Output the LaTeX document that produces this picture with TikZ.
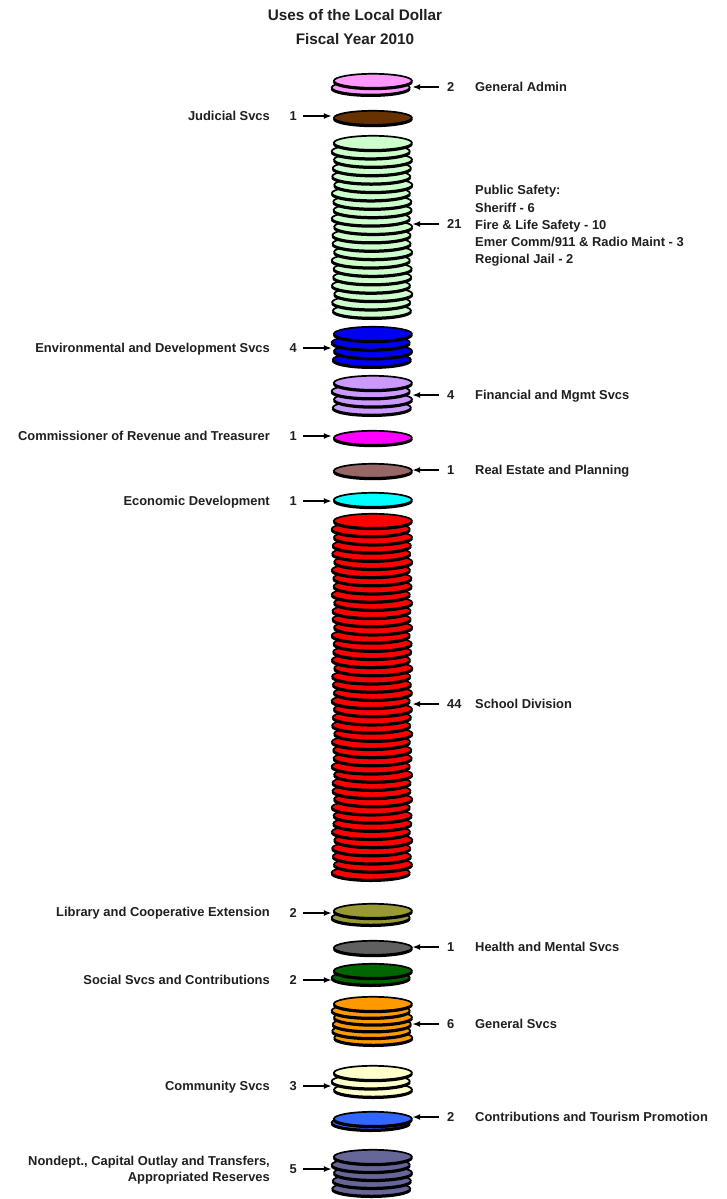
\documentclass[tikz,border=0pt]{standalone}
\usepackage{fontspec}
\setmainfont{Liberation Sans}
\usetikzlibrary{arrows.meta}
\definecolor{cPink}{RGB}{255,153,255}
\definecolor{cBrown}{RGB}{102,51,0}
\definecolor{cMint}{RGB}{204,255,204}
\definecolor{cBlue}{RGB}{0,0,240}
\definecolor{cLav}{RGB}{204,153,255}
\definecolor{cMag}{RGB}{255,0,255}
\definecolor{cRosy}{RGB}{153,102,102}
\definecolor{cCyan}{RGB}{0,255,255}
\definecolor{cRed}{RGB}{255,0,0}
\definecolor{cOlive}{RGB}{153,153,51}
\definecolor{cGray}{RGB}{96,96,96}
\definecolor{cDkGreen}{RGB}{0,102,0}
\definecolor{cOrange}{RGB}{255,153,0}
\definecolor{cCream}{RGB}{255,255,204}
\definecolor{cBlueB}{RGB}{51,102,255}
\definecolor{cSlate}{RGB}{102,102,153}
\newcommand\coinstack[5]{%
  \pgfmathsetmacro\cstep{(#5-#4-17.2)/max(#3-1,1)}%
  \foreach \k in {#3,...,1}{%
    \pgfmathsetmacro\cy{#4+7.8+(\k-1)*\cstep}%
    \pgfmathsetmacro\cx{372+1.3*sin(\k*137)}%
    \fill[black] (\cx,\cy+1.8) ellipse [x radius=39.8pt, y radius=7.6pt];
    \filldraw[coin, fill=#2] (\cx,\cy) ellipse [x radius=39pt, y radius=7pt];
  }%
  \node[stackbox, minimum height={(#5-#4)*1pt}] (#1) at (372,{(#4+#5)/2}) {};
}
\tikzset{
  coin/.style={draw=black, line width=1.7pt},
  stackbox/.style={rectangle, minimum width=80pt, inner sep=0pt, draw=none},
  lblfont/.style={font=\bfseries\fontsize{12.9}{17.25}\selectfont, text=black!88, inner sep=0pt},
  lbl/.style={lblfont, text height=9.2pt, text depth=0pt},
  lnum/.style={lbl, anchor=east, inner xsep=6pt},
  rnum/.style={lbl, anchor=west, inner xsep=8pt},
  llab/.style={lbl, anchor=east},
  rlab/.style={lbl, anchor=west},
  ttl/.style={font=\bfseries\fontsize{15.3}{18}\selectfont, text=black!88, inner sep=0pt, text height=11pt, text depth=0pt},
  ptr/.style={line width=1.9pt, -{Latex[length=8pt,width=6pt]}},
}
\begin{document}
\begin{tikzpicture}[x=1pt,y=-1pt]
\useasboundingbox[fill=white] (0,0) rectangle (727,1199);
\node[ttl] (t1) at (355,15) {Uses of the Local Dollar};
\node[ttl] (t2) at (355,39) {Fiscal Year 2010};
% stacks
\coinstack{s1}{cPink}{2}{73}{97}
\coinstack{s2}{cBrown}{1}{110}{126}
\coinstack{s3}{cMint}{21}{135}{320}
\coinstack{s4}{cBlue}{4}{326}{369}
\coinstack{s5}{cLav}{4}{375}{417}
\coinstack{s6}{cMag}{1}{430}{448}
\coinstack{s7}{cRosy}{1}{463}{480}
\coinstack{s8}{cCyan}{1}{492}{507}
\coinstack{s9}{cRed}{44}{513}{882}
\coinstack{s10}{cOlive}{2}{903}{927}
\coinstack{s11}{cGray}{1}{940}{955}
\coinstack{s12}{cDkGreen}{2}{963}{987}
\coinstack{s13}{cOrange}{6}{996}{1047}
\coinstack{s14}{cCream}{3}{1065}{1099}
\coinstack{s15}{cBlueB}{2}{1111}{1132}
\coinstack{s16}{cSlate}{5}{1149}{1198}
% right side
\node[rnum] (n1) at (439,87) {2};
\node[rlab] (l1) at (475,87) {General Admin};
\node[rnum] (n3) at (439,224) {21};
\node[lblfont, anchor=west, align=left] (l3) at (475,226) {Public Safety:\\Sheriff - 6\\Fire \& Life Safety - 10\\Emer Comm/911 \& Radio Maint - 3\\Regional Jail - 2};
\node[rnum] (n5) at (439,395) {4};
\node[rlab] (l5) at (475,395) {Financial and Mgmt Svcs};
\node[rnum] (n7) at (439,470) {1};
\node[rlab] (l7) at (475,470) {Real Estate and Planning};
\node[rnum] (n9) at (439,704) {44};
\node[rlab] (l9) at (475,704) {School Division};
\node[rnum] (n11) at (439,947) {1};
\node[rlab] (l11) at (475,947) {Health and Mental Svcs};
\node[rnum] (n13) at (439,1024) {6};
\node[rlab] (l13) at (475,1024) {General Svcs};
\node[rnum] (n15) at (439,1117) {2};
\node[rlab] (l15) at (475,1117) {Contributions and Tourism Promotion};
% left side
\node[lnum] (n2) at (303,116) {1};
\node[llab] (l2) at (270,116) {Judicial Svcs};
\node[lnum] (n4) at (303,348) {4};
\node[llab] (l4) at (270,348) {Environmental and Development Svcs};
\node[lnum] (n6) at (303,436) {1};
\node[llab] (l6) at (270,436) {Commissioner of Revenue and Treasurer};
\node[lnum] (n8) at (303,501) {1};
\node[llab] (l8) at (270,501) {Economic Development};
\node[lnum] (n10) at (303,913) {2};
\node[llab] (l10) at (270,912) {Library and Cooperative Extension};
\node[lnum] (n12) at (303,980) {2};
\node[llab] (l12) at (270,980) {Social Svcs and Contributions};
\node[lnum] (n14) at (303,1086) {3};
\node[llab] (l14) at (270,1086) {Community Svcs};
\node[lnum] (n16) at (303,1169) {5};
\node[lblfont, anchor=east, align=right, font=\bfseries\fontsize{12.9}{16.5}\selectfont] (l16) at (270,1170) {Nondept., Capital Outlay and Transfers,\\Appropriated Reserves};
% arrows
\foreach \n/\s in {n1/s1,n3/s3,n5/s5,n7/s7,n9/s9,n11/s11,n13/s13,n15/s15}
  \draw[ptr] (\n.west) -- (\n -| \s.east);
\foreach \n/\s in {n2/s2,n4/s4,n6/s6,n8/s8,n10/s10,n12/s12,n14/s14,n16/s16}
  \draw[ptr] (\n.east) -- (\n -| \s.west);
\end{tikzpicture}
\end{document}
